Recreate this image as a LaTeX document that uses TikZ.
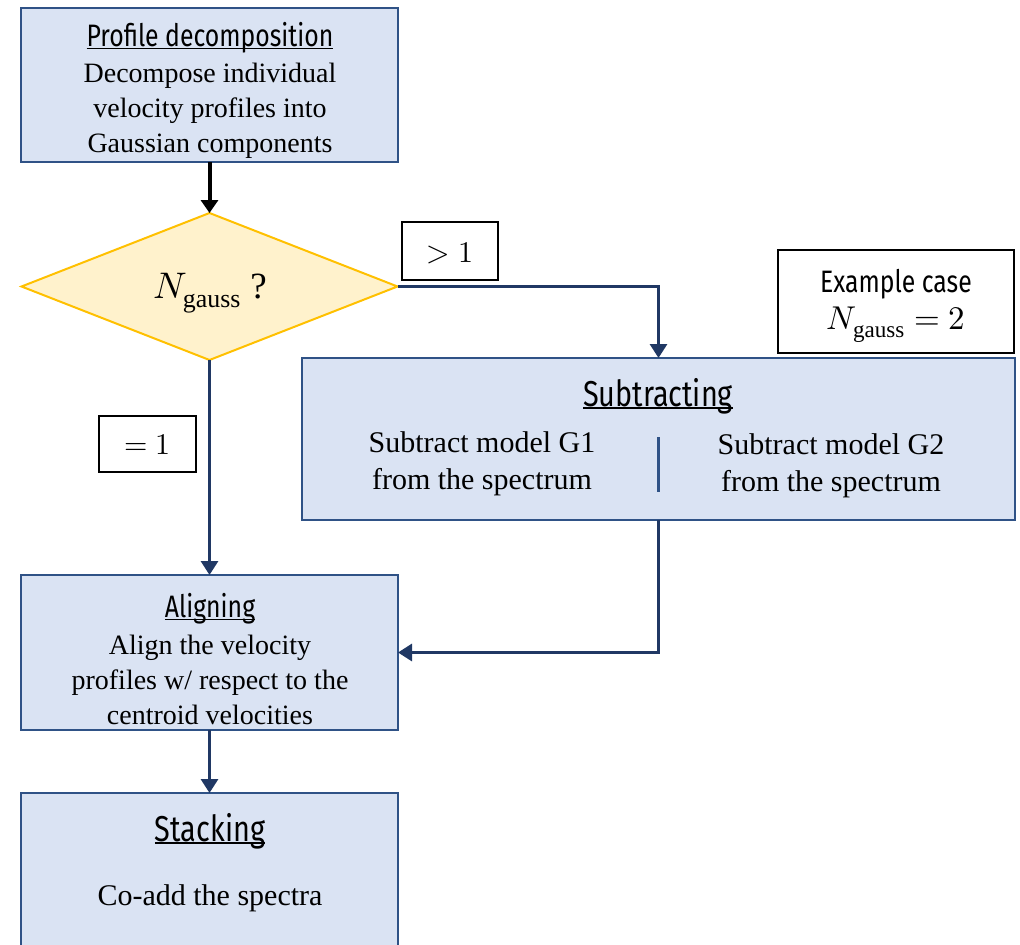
\documentclass[tikz,border=0pt]{standalone}
\usepackage{fontspec}
\usepackage{unicode-math}
\setmainfont{Liberation Serif}
\setmathfont{Latin Modern Math}
\newfontfamily\headfont{Fira Sans}[FakeStretch=0.8]
\usetikzlibrary{shapes.geometric,arrows.meta}
\newcommand{\myul}[1]{{\setbox0\hbox{#1}\rlap{\rule[-2.5pt]{\wd0}{1.6pt}}\box0}}
\definecolor{boxfill}{HTML}{DAE3F3}
\definecolor{boxdraw}{HTML}{2F5286}
\definecolor{navy}{HTML}{203864}
\definecolor{decfill}{HTML}{FFF2CC}
\definecolor{decdraw}{HTML}{FFC000}
\tikzset{
  stepbox/.style={draw=boxdraw, fill=boxfill, line width=2pt, inner sep=0pt, outer sep=0pt, rectangle},
  labbox/.style={draw=black, fill=white, line width=1.3pt, inner sep=0pt, outer sep=0pt, rectangle},
  decbox/.style={diamond, draw=decdraw, fill=decfill, line width=2pt, inner sep=0pt, outer sep=0pt},
  bodytxt/.style={align=center, font=\fontsize{28}{35}\selectfont, inner sep=0pt},
  bigbodytxt/.style={align=center, font=\fontsize{30}{37}\selectfont, inner sep=0pt},
  headtxt/.style={font=\headfont\fontsize{31}{34}\selectfont, inner sep=0pt},
  bigheadtxt/.style={font=\headfont\fontsize{36}{40}\selectfont, inner sep=0pt},
  mathtxt/.style={inner sep=0pt, font=\fontsize{30}{34}\selectfont},
  navyarrow/.style={draw=navy, line width=3pt, -{Triangle[width=17pt,length=14pt]}},
  blackarrow/.style={draw=black, line width=4pt, -{Triangle[width=17pt,length=13pt]}},
}
\begin{document}
\begin{tikzpicture}[x=1pt,y=-1pt]
\clip (0,0) rectangle (1020,945);
\useasboundingbox (0,0) rectangle (1020,945);
% boxes
\node[stepbox, minimum width=377pt, minimum height=154pt] (pd) at (209.5,85) {};
\node[decbox, minimum width=376pt, minimum height=147pt] (dec) at (209.5,286.5) {};
\node[stepbox, minimum width=713pt, minimum height=162pt] (sub) at (658.5,439) {};
\node[stepbox, minimum width=377pt, minimum height=155pt] (al) at (209.5,652.5) {};
\node[stepbox, minimum width=377pt, minimum height=170pt] (st) at (209.5,878) {};
\node[labbox, minimum width=96pt, minimum height=58pt] (gt) at (450,251) {};
\node[labbox, minimum width=97pt, minimum height=56pt] (eq) at (147.5,444) {};
\node[labbox, minimum width=236pt, minimum height=103pt] (ex) at (896,301.5) {};
% connectors
\draw[blackarrow] (pd.south) -- (dec.north);
\draw[navyarrow] (dec.east) -| (sub.north);
\draw[navyarrow] (dec.south) -- (al.north);
\draw[navyarrow] (sub.south) |- (al.east);
\draw[navyarrow] (al.south) -- (st.north);
% separator
\coordinate (sepA) at (658,437);
\coordinate (sepB) at (658,492);
\draw[draw=boxdraw, line width=3pt] (sepA) -- (sepB);
% texts
\node[headtxt] (pdh) at (210,38) {\myul{Profile decomposition}};
\node[bodytxt] (pdb) at (210,111) {Decompose individual\\velocity profiles into\\Gaussian components};
\node[inner sep=0pt, font=\fontsize{37}{40}\selectfont] (dect) at (210,293) {$N_{\mathrm{gauss}}$ ?};
\node[mathtxt] (gtt) at (450,253) {$>1$};
\node[mathtxt] (eqt) at (147.5,445) {$=1$};
\node[headtxt, align=center] (ext1) at (896,284) {Example case};
\node[inner sep=0pt, font=\fontsize{33}{36}\selectfont] (ext2) at (896,325) {$N_{\mathrm{gauss}}=2$};
\node[bigheadtxt] (subh) at (658,396) {\myul{Subtracting}};
\node[bigbodytxt] (sub1) at (482,464) {Subtract model G1\\from the spectrum};
\node[bigbodytxt] (sub2) at (831,466) {Subtract model G2\\from the spectrum};
\node[headtxt] (alh) at (210,609) {\myul{Aligning}};
\node[bodytxt] (alb) at (210,680) {Align the velocity\\profiles w/ respect to the\\centroid velocities};
\node[bigheadtxt] (sth) at (210,831) {\myul{Stacking}};
\node[bigbodytxt] (stb) at (210,898) {Co-add the spectra};
\end{tikzpicture}
\end{document}
